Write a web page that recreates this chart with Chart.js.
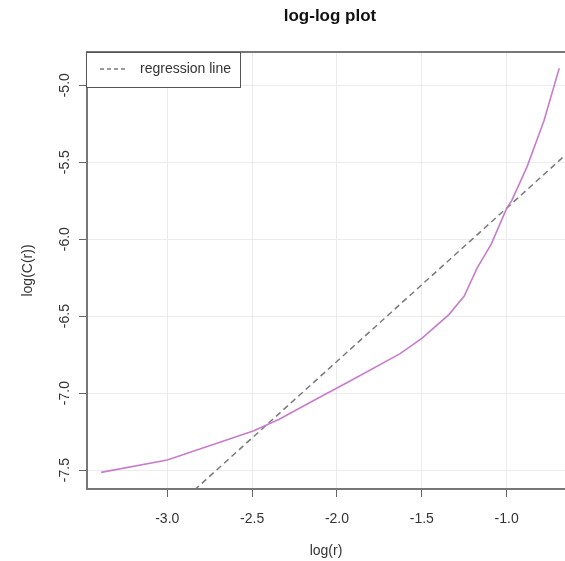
<!DOCTYPE html>
<html>
<head>
<meta charset="utf-8">
<script src="https://cdn.jsdelivr.net/npm/chart.js@4/dist/chart.umd.min.js"></script>
<style>
  body { margin: 0; background: #fff; }
  #wrap { width: 565px; height: 561px; }
</style>
</head>
<body>
<div id="wrap"><canvas id="chartLogLog" width="565" height="561"></canvas></div>
<script>
// log(r) / log(C(r))
const logR  = [-3.39, -3.00, -2.69, -2.49, -2.34, -2.14, -1.92, -1.63, -1.50, -1.34, -1.25, -1.175, -1.09, -1.00, -0.97, -0.88, -0.78, -0.69];
const logCR = [-7.515, -7.435, -7.32, -7.245, -7.17, -7.05, -6.92, -6.745, -6.645, -6.49, -6.37, -6.19, -6.03, -5.80, -5.75, -5.53, -5.23, -4.89];

// regression line end points
const regX = [-2.84, -0.64];
const regY = [-7.63, -5.44];

const xTicks = [-3.0, -2.5, -2.0, -1.5, -1.0];
const yTicks = [-7.5, -7.0, -6.5, -6.0, -5.5, -5.0];

const titleText = 'log-log plot';
const legendText = 'regression line';

const FONT = "'Liberation Sans', Arial, sans-serif";
const curveColor = '#c77dcc';
const regColor = '#7a7a7a';

// title, top frame line and the boxed legend
const extras = {
  id: 'extras',
  afterDraw(chart) {
    const ctx = chart.ctx;
    const a = chart.chartArea;
    ctx.save();

    ctx.strokeStyle = '#777';
    ctx.lineWidth = 2;
    ctx.beginPath();
    ctx.moveTo(a.left, a.top);
    ctx.lineTo(a.right, a.top);
    ctx.stroke();

    ctx.fillStyle = '#111';
    ctx.font = 'bold 17px ' + FONT;
    ctx.textAlign = 'center';
    ctx.textBaseline = 'middle';
    ctx.fillText(titleText, 330, 16);

    // legend box
    const bx = a.left - 1, by = a.top, bw = 154, bh = 35;
    ctx.fillStyle = '#fff';
    ctx.fillRect(bx, by, bw, bh);
    ctx.strokeStyle = '#555';
    ctx.lineWidth = 1;
    ctx.strokeRect(bx + 0.5, by + 0.5, bw, bh);

    ctx.strokeStyle = regColor;
    ctx.lineWidth = 1.5;
    ctx.setLineDash([4, 3]);
    ctx.beginPath();
    ctx.moveTo(bx + 14, by + 17);
    ctx.lineTo(bx + 42, by + 17);
    ctx.stroke();
    ctx.setLineDash([]);

    ctx.fillStyle = '#333';
    ctx.font = '14px ' + FONT;
    ctx.textAlign = 'left';
    ctx.fillText(legendText, bx + 54, by + 17);
    ctx.restore();
  }
};

const ctx = document.getElementById('chartLogLog').getContext('2d');
new Chart(ctx, {
  type: 'scatter',
  data: {
    datasets: [
      {
        label: 'log(C(r))',
        data: logR.map((x, i) => ({ x: x, y: logCR[i] })),
        showLine: true,
        borderColor: curveColor,
        borderWidth: 1.6,
        pointRadius: 0,
        tension: 0
      },
      {
        label: legendText,
        data: regX.map((x, i) => ({ x: x, y: regY[i] })),
        showLine: true,
        borderColor: regColor,
        borderWidth: 1.5,
        borderDash: [6, 4],
        pointRadius: 0
      }
    ]
  },
  options: {
    responsive: false,
    animation: false,
    layout: { padding: { top: 52, left: 0, right: 0, bottom: 0 } },
    plugins: {
      legend: { display: false },
      tooltip: { enabled: false }
    },
    scales: {
      x: {
        type: 'linear',
        min: -3.473,
        max: -0.656,
        afterFit: s => { s.height = 72; },
        afterBuildTicks: s => { s.ticks = xTicks.map(v => ({ value: v })); },
        grid: { color: '#ebebeb', tickColor: '#666', tickLength: 8 },
        border: { color: '#777', width: 2 },
        ticks: {
          color: '#333',
          font: { family: FONT, size: 14 },
          padding: 14,
          callback: v => v.toFixed(1)
        },
        title: {
          display: true,
          text: 'log(r)',
          color: '#333',
          font: { family: FONT, size: 14 },
          padding: { top: 0, bottom: 1 }
        }
      },
      y: {
        type: 'linear',
        min: -7.623,
        max: -4.784,
        afterFit: s => { s.width = 87; },
        afterBuildTicks: s => { s.ticks = yTicks.map(v => ({ value: v })); },
        grid: { color: '#ebebeb', tickColor: '#666', tickLength: 8 },
        border: { color: '#777', width: 2 },
        ticks: {
          color: '#333',
          font: { family: FONT, size: 14 },
          padding: 2,
          minRotation: 90,
          maxRotation: 90,
          crossAlign: 'center',
          callback: v => v.toFixed(1)
        },
        title: {
          display: true,
          text: 'log(C(r))',
          color: '#333',
          font: { family: FONT, size: 14 },
          padding: { top: 20, bottom: 0 }
        }
      }
    }
  },
  plugins: [extras]
});
</script>
</body>
</html>
